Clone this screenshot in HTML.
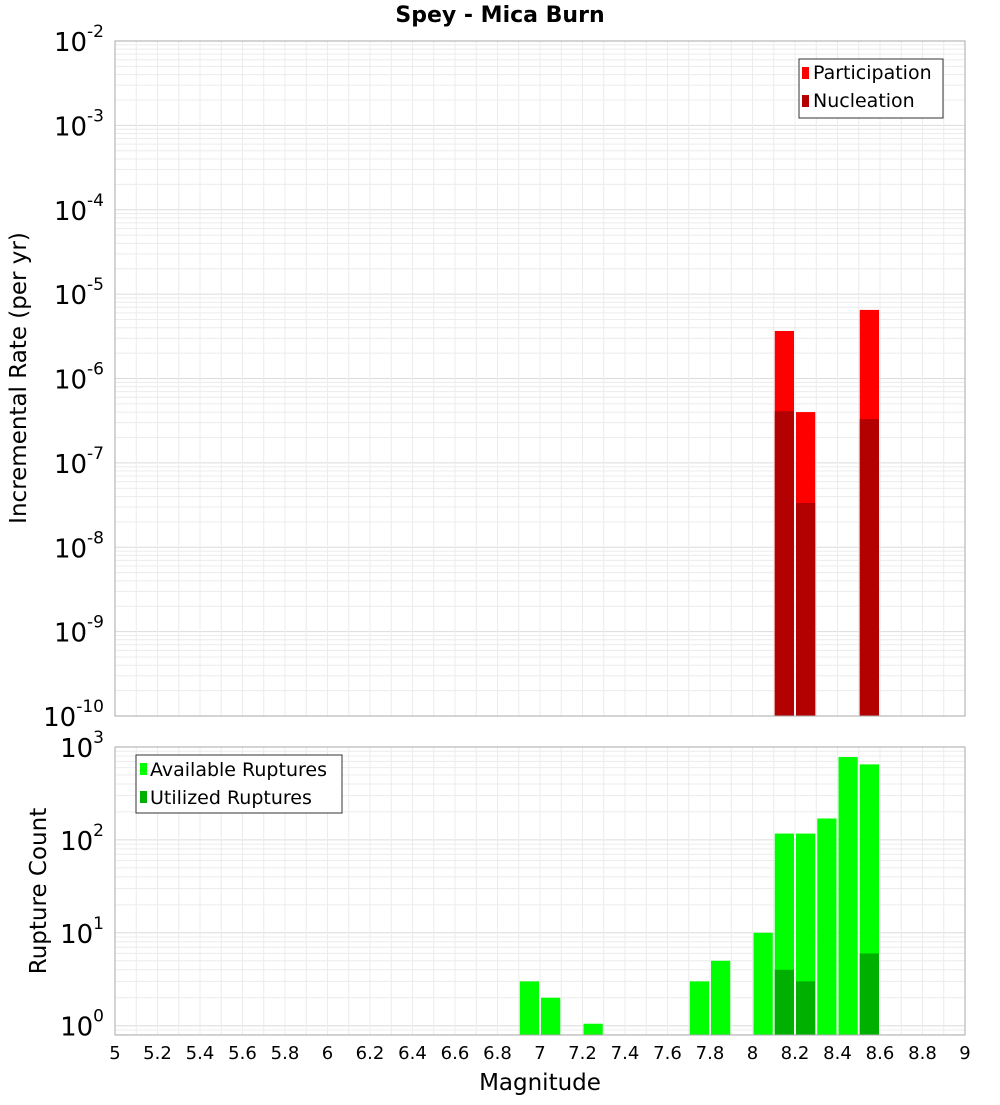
<!DOCTYPE html>
<html><head><meta charset="utf-8"><style>
body{margin:0;background:#fff;font-family:"Liberation Sans","DejaVu Sans",sans-serif}
svg text{font-family:"DejaVu Sans","Liberation Sans",sans-serif}
</style></head><body>
<svg id="c" width="1000" height="1100" xmlns="http://www.w3.org/2000/svg">
<text x="500" y="22" text-anchor="middle" font-size="22" font-weight="bold">Spey - Mica Burn</text>
<g id="top"></g><g id="bot"></g>
<text x="540" y="1090" text-anchor="middle" font-size="23">Magnitude</text>
<text transform="translate(26,378) rotate(-90)" text-anchor="middle" font-size="23">Incremental Rate (per yr)</text>
<text transform="translate(46,891) rotate(-90)" text-anchor="middle" font-size="23">Rupture Count</text>
<g>
<rect x="799" y="59" width="144" height="59" fill="#fff" stroke="#333"/>
<rect x="802" y="67" width="7" height="12" fill="#ff0000"/><text x="813" y="79" font-size="19">Participation</text>
<rect x="802" y="95" width="7" height="12" fill="#b30000"/><text x="813" y="107" font-size="19">Nucleation</text>
</g>
<g>
<rect x="136" y="755" width="206" height="58" fill="#fff" stroke="#333"/>
<rect x="140" y="763" width="7" height="12" fill="#00ff00"/><text x="150" y="776" font-size="19">Available Ruptures</text>
<rect x="140" y="791" width="7" height="12" fill="#00b000"/><text x="150" y="804" font-size="19">Utilized Ruptures</text>
</g>
</svg>
<script>
const mags=[6.95,7.05,7.25,7.75,7.85,8.05,8.15,8.25,8.35,8.45,8.55];
const available=[3,2,1.05,3,5,10,117,117,170,780,650];
const utilMags=[8.15,8.25,8.55];
const utilized=[4,3,6];
const rateMags=[8.15,8.25,8.55];
const participation=[3.66e-6,4.0e-7,6.5e-6];
const nucleation=[4.1e-7,3.35e-8,3.3e-7];
const xTicks=[5,5.2,5.4,5.6,5.8,6,6.2,6.4,6.6,6.8,7,7.2,7.4,7.6,7.8,8,8.2,8.4,8.6,8.8,9];

const NS="http://www.w3.org/2000/svg";
const X0=115,X1=965;
const x=m=>X0+(m-5)/4*(X1-X0);
function mk(p,t,a){const e=document.createElementNS(NS,t);for(const k in a)e.setAttribute(k,a[k]);p.appendChild(e);return e;}
function panel(g,top,bot,lmin,lmax){
  const y=v=>bot-(Math.log10(v)-lmin)/(lmax-lmin)*(bot-top);
  for(let d=Math.floor(lmin);d<=Math.ceil(lmax);d++){
    for(let k=1;k<10;k++){const v=k*Math.pow(10,d);const l=Math.log10(v);if(l<lmin||l>lmax)continue;
      const ln=mk(g,'line',{x1:X0,x2:X1,y1:y(v),y2:y(v),stroke:k==1?'#dcdcdc':'#ececec','stroke-width':1});
      
      }
  }
  for(let i=0;i<=40;i++){const m=5+i*0.1;const ln=mk(g,'line',{x1:x(m),x2:x(m),y1:top,y2:bot,stroke:'#ececec'});
    
    }
  return y;
}
const gt=document.getElementById('top'),gb=document.getElementById('bot');
const yT=panel(gt,41,716,-10,-2);
const yB=panel(gb,747,1035,-0.1,3);
function bar(g,m,v,y,bot,col,name){const r=mk(g,'rect',{x:x(m-0.05)+1,width:x(m+0.05)-x(m-0.05)-2,y:y(v),height:bot-y(v),fill:col});
  
  }
rateMags.forEach((m,i)=>bar(gt,m,participation[i],yT,716,'#ff0000','bar-participation'));
rateMags.forEach((m,i)=>bar(gt,m,nucleation[i],yT,716,'#b30000','bar-nucleation'));
mags.forEach((m,i)=>bar(gb,m,available[i],yB,1035,'#00ff00','bar-available'));
utilMags.forEach((m,i)=>bar(gb,m,utilized[i],yB,1035,'#00b000','bar-utilized'));
const f1=mk(gt,'rect',{x:X0,y:41,width:X1-X0,height:675,fill:'none',stroke:'#aaa'});


const f2=mk(gb,'rect',{x:X0,y:747,width:X1-X0,height:288,fill:'none',stroke:'#aaa'});


function ylab(g,yy,e){const t=mk(g,'text',{x:104,y:yy+10,'text-anchor':'end','font-size':26});
  
  
  t.textContent='10';const s=mk(t,'tspan',{dy:-14,'font-size':17});s.textContent=e;}
for(let d=-10;d<=-2;d++)ylab(gt,yT(Math.pow(10,d)),String(d));
for(let d=0;d<=3;d++)ylab(gb,yB(Math.pow(10,d)),String(d));
xTicks.forEach(m=>{const t=mk(gb,'text',{x:x(m),y:1059,'text-anchor':'middle','font-size':18});
  
  
  t.textContent=String(m);});
</script>
</body></html>
